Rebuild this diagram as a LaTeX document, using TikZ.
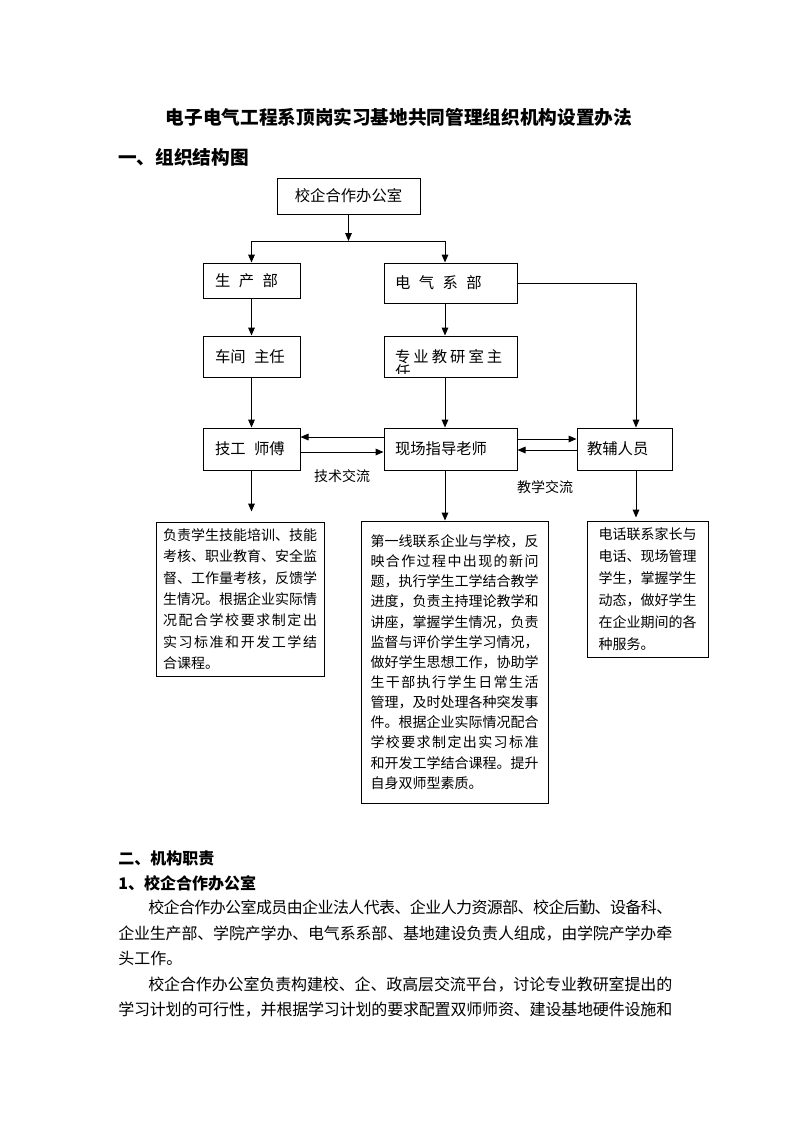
\documentclass[tikz,border=0pt]{standalone}
\usepackage{fontspec}
\setmainfont{Noto Sans CJK SC}
\usetikzlibrary{arrows.meta,positioning}

% spread one line of CJK text to a fixed width
\makeatletter
\newcommand\spread[2]{\leavevmode\hbox to #1{\spread@#2\relax}}
\def\spread@#1{#1\@ifnextchar\relax{\@gobble}{\hskip 0pt plus 1fil minus 1pt\relax\spread@}}
\makeatother

\begin{document}
\begin{tikzpicture}[x=0.75pt,y=-0.75pt,
  biaoqian/.style={draw,line width=0.75pt,inner sep=0pt,align=left,font=\fontsize{11.5pt}{14pt}\selectfont},
  wenzi/.style={draw,line width=0.75pt,inner sep=0pt,align=left,font=\fontsize{10.5pt}{16pt}\selectfont},
  jiantou/.style={line width=0.75pt,-{Triangle[length=6pt,width=5pt]}},
  xian/.style={line width=0.75pt},
  jiaoliu/.style={font=\fontsize{10.5pt}{12pt}\selectfont},
  zhengwen/.style={inner sep=0pt,anchor=west,align=left,font=\fontsize{12pt}{19pt}\selectfont}]
\useasboundingbox (0,0) rectangle (793,1122);

% headings
\node[font=\fontsize{14pt}{16pt}\selectfont\bfseries] (biaoti) at (399,117) {电子电气工程系顶岗实习基地共同管理组织机构设置办法};
\node[zhengwen,font=\fontsize{14pt}{16pt}\selectfont\bfseries] (yibt) at (118,157) {一、组织结构图};

% chart boxes
\node[biaoqian,align=center,minimum width=107.25pt,minimum height=27pt] (xiaoqi) at (348.5,196) {校企合作办公室};
\node[biaoqian,text width=54.75pt,minimum width=72.75pt,minimum height=26.25pt] (shengchan) at (251.5,280.5) {生\hspace{0.55em}产\hspace{0.55em}部};
\node[biaoqian,text width=83.25pt,minimum width=99.75pt,minimum height=30pt] (dianqi) at (450.5,283) {电\hspace{0.55em}气\hspace{0.55em}系\hspace{0.55em}部};
\node[biaoqian,text width=54.75pt,minimum width=72.75pt,minimum height=30.75pt] (chejian) at (251.5,356.5) {车间\hspace{0.55em}主任};
\node[biaoqian,text width=83.25pt,minimum width=99.75pt,minimum height=30.75pt] (zhuanye) at (450.5,356.5) {专\hspace{0.2em}业\hspace{0.2em}教\hspace{0.2em}研\hspace{0.2em}室\hspace{0.2em}主};
\begin{scope}
\clip (zhuanye.north west) rectangle ([yshift=3pt]zhuanye.south east);
\node[inner sep=0pt,anchor=west,font=\fontsize{11.5pt}{14pt}\selectfont] (ren) at (395,372) {任};
\end{scope}
\node[biaoqian,text width=54.75pt,minimum width=72.75pt,minimum height=31.5pt] (jigong) at (251.5,449) {技工\hspace{0.55em}师傅};
\node[biaoqian,text width=83.25pt,minimum width=99.75pt,minimum height=31.5pt] (xianchang) at (450.5,449) {现场指导老师};
\node[biaoqian,text width=56.25pt,minimum width=71.25pt,minimum height=31.5pt] (jiaofu) at (624.5,449) {教辅人员};

% duty boxes
\node[wenzi,text width=115.5pt,minimum width=126pt,minimum height=115.5pt] (zhize1) at (240,599) {%
\spread{115.5pt}{负责学生技能培训、技能}\\
\spread{115.5pt}{考核、职业教育、安全监}\\
\spread{115.5pt}{督、工作量考核，反馈学}\\
\spread{115.5pt}{生情况。根据企业实际情}\\
\spread{115.5pt}{况配合学校要求制定出}\\
\spread{115.5pt}{实习标准和开发工学结}\\
合课程。};
\node[wenzi,font=\fontsize{10.5pt}{15.1pt}\selectfont,text width=126pt,minimum width=140.25pt,minimum height=211.5pt] (zhize2) at (454.5,662) {%
\spread{126pt}{第一线联系企业与学校，反}\\
\spread{126pt}{映合作过程中出现的新问}\\
\spread{126pt}{题，执行学生工学结合教学}\\
\spread{126pt}{进度，负责主持理论教学和}\\
\spread{126pt}{讲座，掌握学生情况，负责}\\
\spread{126pt}{监督与评价学生学习情况，}\\
\spread{126pt}{做好学生思想工作，协助学}\\
\spread{126pt}{生干部执行学生日常生活}\\
\spread{126pt}{管理，及时处理各种突发事}\\
\spread{126pt}{件。根据企业实际情况配合}\\
\spread{126pt}{学校要求制定出实习标准}\\
\spread{126pt}{和开发工学结合课程。提升}\\
自身双师型素质。};
\node[wenzi,font=\fontsize{10.5pt}{16.4pt}\selectfont,text width=73.5pt,minimum width=90.75pt,minimum height=102pt] (zhize3) at (647.5,589) {%
\spread{73.5pt}{电话联系家长与}\\
\spread{73.5pt}{电话、现场管理}\\
\spread{73.5pt}{学生，掌握学生}\\
\spread{73.5pt}{动态，做好学生}\\
\spread{73.5pt}{在企业期间的各}\\
种服务。};

% connectors
\coordinate (fenzhi) at (348.5,241);
\coordinate (lie2) at (445,0);
\coordinate (lie3) at (636,0);
\draw[jiantou] (xiaoqi) -- (fenzhi);
\draw[xian] (shengchan.north |- fenzhi) -- (lie2 |- fenzhi);
\draw[jiantou] (shengchan.north |- fenzhi) -- (shengchan.north);
\draw[jiantou] (lie2 |- fenzhi) -- (lie2 |- dianqi.north);
\draw[jiantou] (shengchan) -- (chejian);
\draw[jiantou] (lie2 |- dianqi.south) -- (lie2 |- zhuanye.north);
\draw[jiantou] (dianqi.east) -- (lie3 |- dianqi.east) -- (lie3 |- jiaofu.north);
\draw[jiantou] (chejian) -- (jigong);
\draw[jiantou] (lie2 |- zhuanye.south) -- (lie2 |- xianchang.north);
\draw[jiantou] ([yshift=9pt]xianchang.west) -- ([yshift=9pt]jigong.east);
\draw[jiantou] ([yshift=-2.25pt]jigong.east) -- ([yshift=-2.25pt]xianchang.west);
\draw[jiantou] ([yshift=7.5pt]xianchang.east) -- ([yshift=7.5pt]jiaofu.west);
\draw[jiantou] ([yshift=-0.75pt]jiaofu.west) -- ([yshift=-0.75pt]xianchang.east);
\draw[jiantou,shorten >=7.5pt] (jigong) -- (jigong |- zhize1.north);
\draw[jiantou] (lie2 |- xianchang.south) -- (lie2 |- zhize2.north);
\draw[jiantou,shorten >=2.25pt] (lie3 |- jiaofu.south) -- (lie3 |- zhize3.north);
\node[jiaoliu] (jishu) at (342,476) {技术交流};
\node[jiaoliu] (jiaoxue) at (545,487) {教学交流};

% text below the chart
\node[zhengwen,font=\fontsize{12pt}{19pt}\selectfont\bfseries] (erbt) at (118,858) {二、机构职责};
\node[zhengwen,font=\fontsize{12pt}{19pt}\selectfont\bfseries] (xiaoqibt) at (118,883) {1、校企合作办公室};
\node[zhengwen,text width=415.5pt] (duan1) at (118,933) {%
\noindent\hspace*{22.5pt}\spread{393pt}{校企合作办公室成员由企业法人代表、企业人力资源部、校企后勤、设备科、}\\
\spread{415.5pt}{企业生产部、学院产学办、电气系系部、基地建设负责人组成，由学院产学办牵}\\
头工作。};
\node[zhengwen,text width=415.5pt] (duan2) at (118,997) {%
\noindent\hspace*{22.5pt}\spread{393pt}{校企合作办公室负责构建校、企、政高层交流平台，讨论专业教研室提出的}\\
\spread{415.5pt}{学习计划的可行性，并根据学习计划的要求配置双师师资、建设基地硬件设施和}};
\end{tikzpicture}
\end{document}
